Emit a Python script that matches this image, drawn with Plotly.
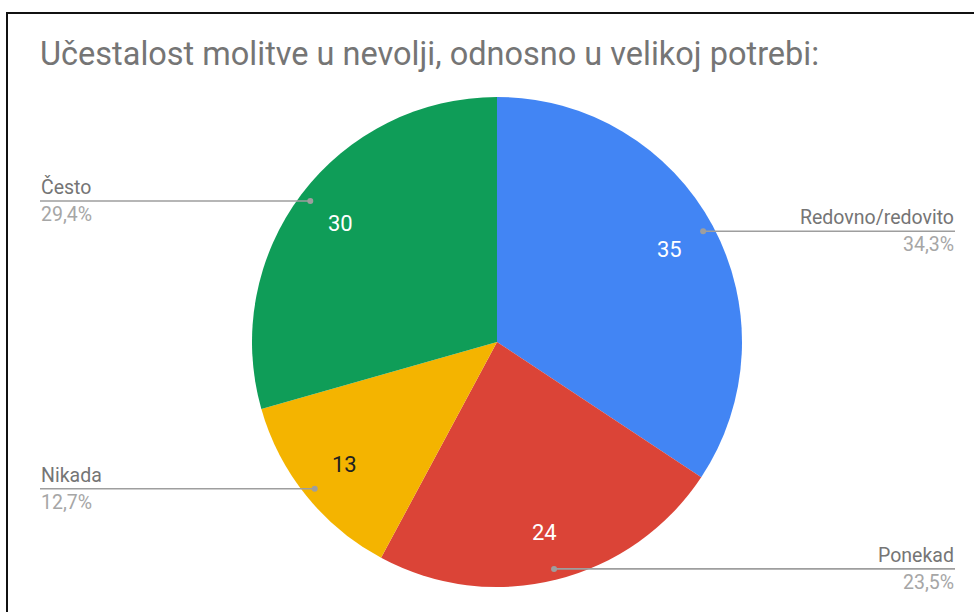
import math
import plotly.graph_objects as go

title = "Učestalost molitve u nevolji, odnosno u velikoj potrebi:"
labels = ["Redovno/redovito", "Ponekad", "Nikada", "Često"]
values = [35, 24, 13, 30]
percent_labels = ["34,3%", "23,5%", "12,7%", "29,4%"]
colors = ["#4285F4", "#DB4437", "#F4B400", "#0F9D58"]
value_text_colors = ["#FFFFFF", "#FFFFFF", "#212121", "#FFFFFF"]

W, H = 974, 612
CX, CY, R = 497, 342, 245  # pie centre / radius in pixels
LEFT_X, RIGHT_X = 40, 955


def px(x):
    return x / W


def py(y):
    return 1 - y / H


fig = go.Figure()
fig.add_trace(go.Pie(
    labels=labels,
    values=values,
    sort=False,
    direction="clockwise",
    rotation=0,
    marker=dict(colors=colors, line=dict(width=0)),
    textinfo="none",
    hoverinfo="label+value+percent",
    showlegend=False,
    domain=dict(x=[px(CX - R), px(CX + R)], y=[py(CY + R), py(CY - R)]),
))

annotations = []
shapes = []
total = sum(values)
cum = 0
for lab, v, pct, tc in zip(labels, values, percent_labels, value_text_colors):
    mid = (cum + v / 2) / total * 2 * math.pi
    cum += v
    sx, cy_ = math.sin(mid), math.cos(mid)
    # value label inside
    vx, vy = CX + 0.8 * R * sx, CY - 0.8 * R * cy_
    annotations.append(dict(x=px(vx), y=py(vy), xref="paper", yref="paper",
                            text=str(v), showarrow=False,
                            font=dict(family="Roboto", size=22, color=tc),
                            xanchor="center", yanchor="middle"))
    # leader line dot
    dx, dy = CX + 0.955 * R * sx, CY - 0.955 * R * cy_
    right = sx > 0
    ex = RIGHT_X if right else LEFT_X
    shapes.append(dict(type="line", xref="paper", yref="paper",
                       x0=px(dx), y0=py(dy), x1=px(ex), y1=py(dy),
                       line=dict(color="#9E9E9E", width=1.6)))
    shapes.append(dict(type="circle", xref="paper", yref="paper",
                       x0=px(dx - 3), x1=px(dx + 3), y0=py(dy + 3), y1=py(dy - 3),
                       fillcolor="#9E9E9E", line=dict(width=0)))
    anchor = "right" if right else "left"
    annotations.append(dict(x=px(ex), y=py(dy - 1), xref="paper", yref="paper",
                            text=lab, showarrow=False, xanchor=anchor, yanchor="bottom",
                            font=dict(family="Roboto", size=19.5, color="#757575"),
                            borderpad=0))
    annotations.append(dict(x=px(ex), y=py(dy + 1), xref="paper", yref="paper",
                            text=pct, showarrow=False, xanchor=anchor, yanchor="top",
                            font=dict(family="Roboto", size=19.5, color="#A6A6A6"),
                            borderpad=0))

# title
annotations.append(dict(x=px(38), y=py(54), xref="paper", yref="paper",
                        text=title, showarrow=False, xanchor="left", yanchor="middle",
                        font=dict(family="Roboto", size=32.5, color="#757575")))

# outer frame
shapes.append(dict(type="rect", xref="paper", yref="paper",
                   x0=px(7), x1=px(W + 20), y0=py(H + 20), y1=py(13),
                   line=dict(color="#111111", width=2), fillcolor="rgba(0,0,0,0)"))

fig.update_layout(
    width=W, height=H,
    margin=dict(l=0, r=0, t=0, b=0),
    paper_bgcolor="white",
    plot_bgcolor="white",
    annotations=annotations,
    shapes=shapes,
)

fig.write_html("out.html", config={"displayModeBar": False},
               post_script="document.body.style.margin='0';document.body.style.overflow='hidden';")
